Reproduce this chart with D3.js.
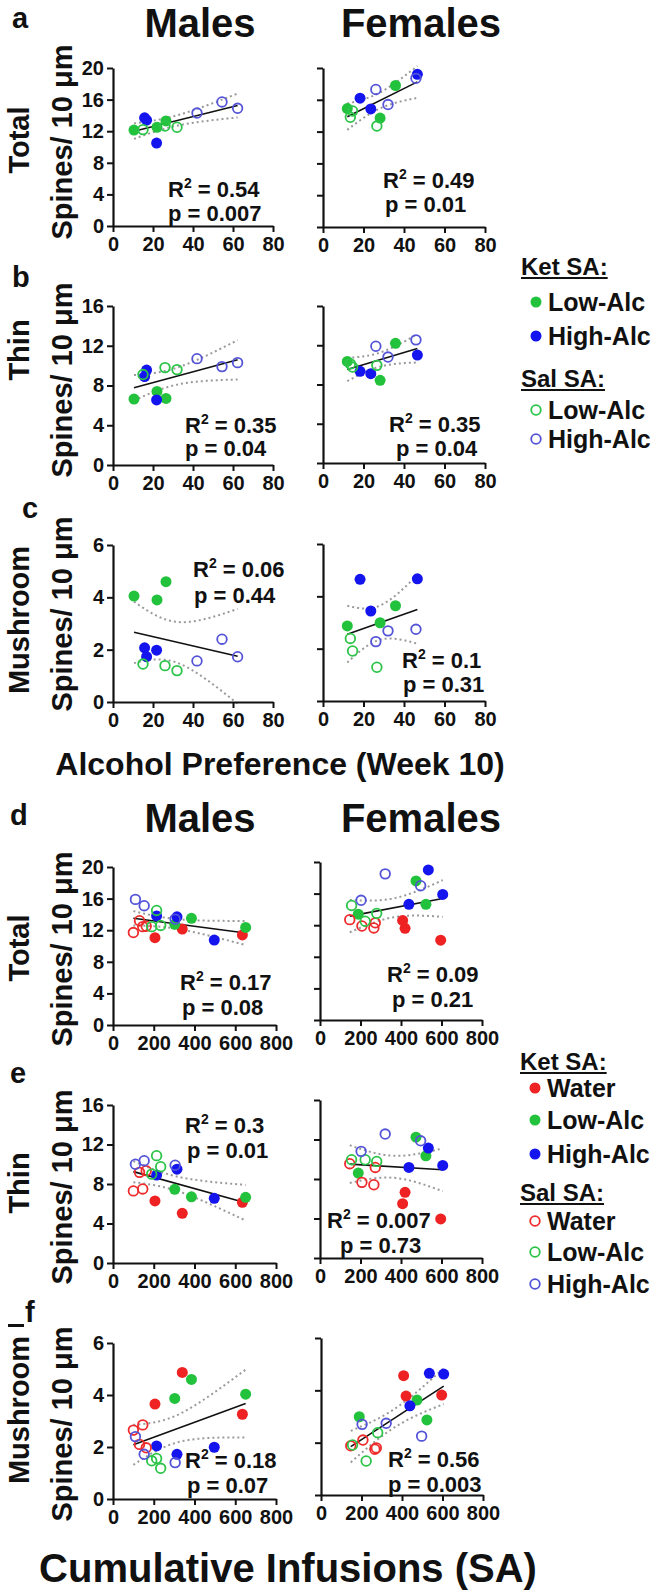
<!DOCTYPE html>
<html><head><meta charset="utf-8">
<script src="https://cdn.jsdelivr.net/npm/d3@7"></script>
<style>
body{margin:0;background:#fff}
svg{display:block}
text{font-family:"Liberation Sans",Arial,sans-serif}
</style>
</head><body>
<svg id="chart" width="656" height="1594"></svg>
<script>
// ---------- DATA ----------
// Groups: KW = Ket SA Water, KL = Ket SA Low-Alc, KH = Ket SA High-Alc, SW/SL/SH = Sal SA
const prefGroups = ["KL","KL","KL","KH","KH","KH","SL","SL","SL","SH","SH","SH"];
const prefMaleX      = [10.5,22,26.5, 15.8,16.8,21.8, 15,26,32, 42,54.5,62.3];
const prefMaleTotal  = [12.15,12.5,13.3, 13.7,13.4,10.5, 12.2,12.65,12.5, 14.3,15.7,14.9];
const prefMaleThin   = [6.64,7.4,6.7, 8.9,9.55,6.55, 9.1,9.8,9.6, 10.7,9.9,10.3];
const prefMaleMush   = [4.05,3.9,4.6, 2.07,1.73,1.98, 1.45,1.39,1.2, 1.57,2.4,1.73];
const prefFemaleX     = [12,28.2,35.8, 18.3,23.6,46.6, 13.5,14.6,26.6, 26.1,32.1,45.9];
const prefFemaleTotal = [14.9,13.7,17.8, 16.2,14.85,19.2, 13.8,14.6,12.7, 17.3,15.4,18.7];
const prefFemaleThin  = [10.35,8.43,12.2, 9.34,9.1,11.0, 10.1,9.78,9.95, 11.9,10.8,12.55];
const prefFemaleMush  = [2.87,2.99,3.64, 4.65,3.44,4.67, 2.39,1.91,1.29, 2.27,2.68,2.74];

const infGroups = ["KW","KW","KW","KL","KL","KL","KH","KH","KH","SW","SW","SW","SW","SL","SL","SL","SH","SH","SH"];
const infMaleX      = [206,340,635, 303,385,651, 214,314,497, 100,130,146,163, 190,214,234, 110,153,305];
const infMaleTotal  = [11.05,12.15,11.4, 12.75,13.5,12.35, 13.8,13.7,10.75, 11.7,13.2,12.45,12.5, 12.45,14.5,12.6, 15.9,15.1,13.4];
const infMaleThin   = [6.28,5.03,6.15, 7.46,6.7,6.65, 8.9,9.5,6.55, 7.3,9.18,7.5,9.35, 9.0,10.87,9.75, 10.0,10.36,9.9];
const infMaleMush   = [3.65,4.87,3.26, 3.87,4.6,4.03, 2.04,1.72,1.99, 2.65,2.1,2.85,1.97, 1.47,1.56,1.18, 2.4,1.72,1.4];
const infFemaleX     = [408,420,596, 189,474,523, 439,535,606, 147,207,266,273, 156,223,280, 203,322,497];
const infFemaleTotal = [12.6,11.6,10.1, 13.4,17.6,14.65, 14.65,19.0,15.9, 12.7,11.9,11.65,12.3, 14.5,12.5,13.5, 15.15,18.5,17.0];
const infFemaleThin  = [5.5,6.65,3.96, 8.6,12.24,10.35, 9.17,11.13,9.37, 9.55,7.66,7.42,9.17, 9.95,9.95,9.78, 10.8,12.55,11.87];
const infFemaleMush  = [4.56,3.78,3.82, 2.99,3.63,2.87, 3.41,4.65,4.62, 1.88,2.1,1.75,1.8, 1.91,1.3,2.38, 2.7,2.74,2.25];

const r2Labels = ["0.54","0.49","0.35","0.35","0.06","0.1","0.17","0.09","0.3","0.007","0.18","0.56"];
const pLabels  = ["0.007","0.01","0.04","0.04","0.44","0.31","0.08","0.21","0.01","0.73","0.07","0.003"];

const prefXTicks = [0,20,40,60,80];
const infXTicks  = [0,200,400,600,800];
const totalTicks = [0,4,8,12,16,20];
const thinTicks  = [0,4,8,12,16];
const mushTicks  = [0,2,4,6];

const legend1Items = [["KL","Low-Alc"],["KH","High-Alc"]];
const legend1SalItems = [["SL","Low-Alc"],["SH","High-Alc"]];
const legend2Items = [["KW","Water"],["KL","Low-Alc"],["KH","High-Alc"]];
const legend2SalItems = [["SW","Water"],["SL","Low-Alc"],["SH","High-Alc"]];

// ---------- STYLE ----------
const groupColor = {KW:"#ee2222", KL:"#22c23c", KH:"#1414ee", SW:"#ee2a2a", SL:"#2cc448", SH:"#5454d8"};
const groupFilled = {KW:true, KL:true, KH:true, SW:false, SL:false, SH:false};
const tTable = {10:2.228, 17:2.110};

const svg = d3.select("#chart");

// ---------- PANELS ----------
const panels = [
 {xs:prefMaleX, ys:prefMaleTotal, g:prefGroups, xd:[0,80], xr:[113,273], yd:[0,20], yr:[226,68], xt:prefXTicks, yt:totalTicks, lab:true, rx:168, ry:197, px:168, py:221},
 {xs:prefFemaleX, ys:prefFemaleTotal, g:prefGroups, xd:[0,80], xr:[323,485], yd:[0,20], yr:[227,68], xt:prefXTicks, yt:totalTicks, lab:false, rx:383, ry:188, px:385, py:212},
 {xs:prefMaleX, ys:prefMaleThin, g:prefGroups, xd:[0,80], xr:[113,273], yd:[0,16], yr:[465,306], xt:prefXTicks, yt:thinTicks, lab:true, rx:185, ry:433, px:185, py:456},
 {xs:prefFemaleX, ys:prefFemaleThin, g:prefGroups, xd:[0,80], xr:[323,485], yd:[0,16], yr:[463,306], xt:prefXTicks, yt:thinTicks, lab:false, rx:389, ry:432, px:396, py:456},
 {xs:prefMaleX, ys:prefMaleMush, g:prefGroups, xd:[0,80], xr:[113,273], yd:[0,6], yr:[702,545], xt:prefXTicks, yt:mushTicks, lab:true, rx:193, ry:577, px:194, py:603},
 {xs:prefFemaleX, ys:prefFemaleMush, g:prefGroups, xd:[0,80], xr:[323,485], yd:[0,6], yr:[701,544], xt:prefXTicks, yt:mushTicks, lab:false, rx:402, ry:668, px:403, py:692},
 {xs:infMaleX, ys:infMaleTotal, g:infGroups, xd:[0,800], xr:[113,276], yd:[0,20], yr:[1025,867], xt:infXTicks, yt:totalTicks, lab:true, rx:180, ry:990, px:182, py:1015},
 {xs:infFemaleX, ys:infFemaleTotal, g:infGroups, xd:[0,800], xr:[320,482], yd:[0,20], yr:[1020,862], xt:infXTicks, yt:totalTicks, lab:false, rx:387, ry:982, px:392, py:1007},
 {xs:infMaleX, ys:infMaleThin, g:infGroups, xd:[0,800], xr:[113,276], yd:[0,16], yr:[1263,1105], xt:infXTicks, yt:thinTicks, lab:true, rx:185, ry:1133, px:187, py:1158},
 {xs:infFemaleX, ys:infFemaleThin, g:infGroups, xd:[0,800], xr:[320,482], yd:[0,16], yr:[1258,1100], xt:infXTicks, yt:thinTicks, lab:false, rx:327, ry:1228, px:340, py:1253},
 {xs:infMaleX, ys:infMaleMush, g:infGroups, xd:[0,800], xr:[113,276], yd:[0,6], yr:[1499,1343], xt:infXTicks, yt:mushTicks, lab:true, rx:185, ry:1468, px:187, py:1493},
 {xs:infFemaleX, ys:infFemaleMush, g:infGroups, xd:[0,800], xr:[321,483], yd:[0,6], yr:[1495,1338], xt:infXTicks, yt:mushTicks, lab:false, rx:388, ry:1467, px:388, py:1492}
];

function fit(xs, ys){
  const n = xs.length, mx = d3.mean(xs), my = d3.mean(ys);
  let sxx=0, sxy=0;
  for(let i=0;i<n;i++){ sxx += (xs[i]-mx)**2; sxy += (xs[i]-mx)*(ys[i]-my); }
  const b = sxy/sxx, a = my - b*mx;
  let sse = 0; for(let i=0;i<n;i++){ sse += (ys[i]-a-b*xs[i])**2; }
  const s = Math.sqrt(sse/(n-2)), t = tTable[n-2] || 2.1;
  return {a,b,n,mx,sxx,s,t,min:d3.min(xs),max:d3.max(xs)};
}

panels.forEach((p, i) => {
  const x = d3.scaleLinear().domain(p.xd).range(p.xr);
  const y = d3.scaleLinear().domain(p.yd).range(p.yr);
  const g = svg.append("g");

  // regression + 95% CI
  const f = fit(p.xs, p.ys);
  const steps = d3.range(0, 41).map(k => f.min + (f.max - f.min)*k/40);
  const band = sign => d3.line().x(v => x(v)).y(v => y(f.a + f.b*v + sign*f.t*f.s*Math.sqrt(1/f.n + (v-f.mx)**2/f.sxx)));
  [1,-1].forEach(sg => g.append("path").attr("d", band(sg)(steps))
     .attr("fill","none").attr("stroke","#9a9a9a").attr("stroke-width",2).attr("stroke-dasharray","2,3"));
  g.append("line").attr("x1",x(f.min)).attr("x2",x(f.max)).attr("y1",y(f.a+f.b*f.min)).attr("y2",y(f.a+f.b*f.max))
     .attr("stroke","#111").attr("stroke-width",1.6);

  // axes
  const ay = g.append("g").attr("transform",`translate(${p.xr[0]},0)`)
    .call(d3.axisLeft(y).tickValues(p.yt).tickSize(6).tickSizeOuter(0).tickPadding(3)
      .tickFormat(p.lab ? d3.format("d") : () => ""));
  const ax = g.append("g").attr("transform",`translate(0,${p.yr[0]})`)
    .call(d3.axisBottom(x).tickValues(p.xt).tickSize(6).tickSizeOuter(0).tickPadding(5).tickFormat(d3.format("d")));
  [ay, ax].forEach(a => {
    a.attr("font-family", null).attr("font-size", null);
    a.select(".domain").attr("stroke","#111").attr("stroke-width",2.2);
    a.selectAll(".tick line").attr("stroke","#111").attr("stroke-width",2);
    a.selectAll(".tick text").attr("fill","#111").style("font-size","20px").style("font-weight","bold");
  });

  // points
  p.xs.forEach((xv, k) => {
    const grp = p.g[k];
    const c = g.append("circle").attr("cx", x(xv)).attr("cy", y(p.ys[k]));
    if (groupFilled[grp]) c.attr("r",5.5).attr("fill",groupColor[grp]);
    else c.attr("r",4.8).attr("fill","none").attr("stroke",groupColor[grp]).attr("stroke-width",1.8);
  });

  // stats text
  const r = g.append("text").attr("x",p.rx).attr("y",p.ry).attr("fill","#111")
     .style("font-size","22px").style("font-weight","bold");
  r.append("tspan").text("R");
  r.append("tspan").attr("dy",-9).style("font-size","14px").text("2");
  r.append("tspan").attr("dy",9).text(" = " + r2Labels[i]);
  g.append("text").attr("x",p.px).attr("y",p.py).attr("fill","#111")
     .style("font-size","22px").style("font-weight","bold").text("p = " + pLabels[i]);
});

// ---------- TITLES & LABELS ----------
function txt(x, y, s, size, weight, anchor, rot){
  const t = svg.append("text").attr("x",x).attr("y",y).text(s).attr("fill","#111")
    .style("font-size", size+"px").style("font-weight", weight||"bold").attr("text-anchor", anchor||"start");
  if (rot) t.attr("transform",`rotate(-90,${x},${y})`);
  return t;
}
txt(200, 37, "Males", 40, "bold", "middle");
txt(421, 37, "Females", 40, "bold", "middle");
txt(200, 832, "Males", 40, "bold", "middle");
txt(421, 832, "Females", 40, "bold", "middle");
txt(280, 775, "Alcohol Preference (Week 10)", 32, "bold", "middle");
txt(288, 1582, "Cumulative Infusions (SA)", 40, "bold", "middle");

// panel letters
[["a",12,28],["b",12,287],["c",22,518],["d",10,825],["e",10,1083],["f",25,1322]].forEach(d => txt(d[1], d[2], d[0], 29, "bold"));
svg.append("rect").attr("x",8).attr("y",1324).attr("width",16).attr("height",3).attr("fill","#111");

// y axis titles
const rowTitles = [["Total",140,142],["Thin",350,380],["Mushroom",620,614],["Total",948,949],["Thin",1183,1187],["Mushroom",1410,1424]];
rowTitles.forEach(r => {
  txt(29, r[1], r[0], 29, "bold", "middle", true);
  txt(72, r[2], "Spines/ 10 μm", 29, "bold", "middle", true);
});

// ---------- LEGENDS ----------
function legend(x, hdr1Y, items1, hdr2Y, items2, rows1, rows2){
  function header(y, s){
    const t = txt(x, y, s, 24, "bold");
    const w = t.node().getComputedTextLength();
    svg.append("line").attr("x1",x).attr("x2",x+w).attr("y1",y+3).attr("y2",y+3).attr("stroke","#111").attr("stroke-width",2);
  }
  function item(y, grp, label){
    const c = svg.append("circle").attr("cx",x+15).attr("cy",y-9);
    if (groupFilled[grp]) c.attr("r",5.5).attr("fill",groupColor[grp]);
    else c.attr("r",4.8).attr("fill","none").attr("stroke",groupColor[grp]).attr("stroke-width",1.8);
    txt(x+27, y, label, 25, "bold");
  }
  header(hdr1Y, "Ket SA:");
  items1.forEach((it, k) => item(rows1[k], it[0], it[1]));
  header(hdr2Y, "Sal SA:");
  items2.forEach((it, k) => item(rows2[k], it[0], it[1]));
}
legend(521, 275, legend1Items, 387, legend1SalItems, [311,345], [419,448]);
legend(520, 1070, legend2Items, 1201, legend2SalItems, [1097,1129,1163], [1230,1261,1293]);
</script>
</body></html>
